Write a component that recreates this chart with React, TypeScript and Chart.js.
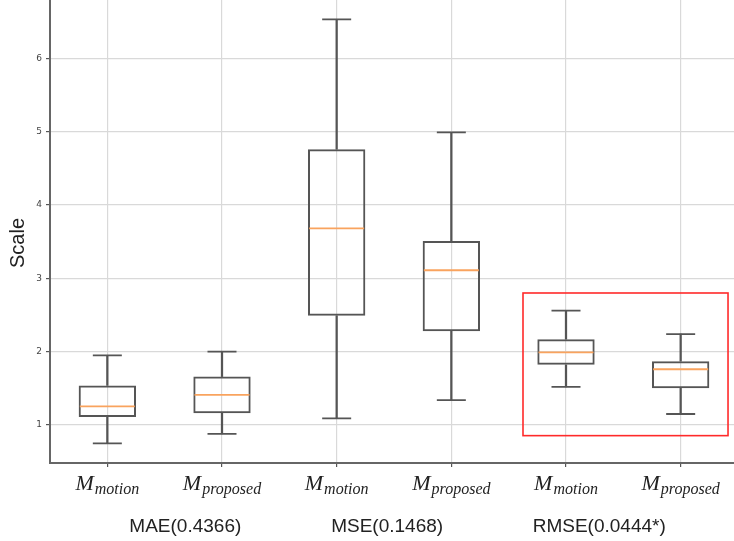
import React, { useEffect, useRef } from "react";
import { Chart, registerables } from "chart.js";

Chart.register(...registerables);

// ---- data ----
const categories = ["motion", "proposed", "motion", "proposed", "motion", "proposed"];
const whiskerLow = [0.75, 0.88, 1.09, 1.34, 1.52, 1.15];
const q1 = [1.11, 1.16, 2.49, 2.28, 1.82, 1.5];
const median = [1.255, 1.41, 3.68, 3.11, 1.99, 1.76];
const q3 = [1.54, 1.66, 4.76, 3.51, 2.17, 1.87];
const whiskerHigh = [1.95, 2.0, 6.53, 4.99, 2.56, 2.24];
const yTicks = [1, 2, 3, 4, 5, 6];
const groupLabels = ["MAE(0.4366)", "MSE(0.1468)", "RMSE(0.0444*)"];
const groupLabelCenters = [0.68, 2.44, 4.29]; // in category-index units
const highlightX = [3.625, 5.413]; // category-index units
const highlightY = [0.855, 2.8]; // value units

const BOX_COLOR = "#555555";
const MEDIAN_COLOR = "#f9a35e";

const overlayPlugin = {
  id: "overlay",
  afterDraw(chart: any) {
    const ctx = chart.ctx as CanvasRenderingContext2D;
    const xs = chart.scales.x;
    const ys = chart.scales.y;
    ctx.save();
    // category labels: M with italic subscript
    categories.forEach((sub, i) => {
      const cx = xs.getPixelForValue(i);
      ctx.font = "italic 22px 'Liberation Serif'";
      const mw = ctx.measureText("M").width;
      ctx.font = "italic 16px 'Liberation Serif'";
      const sw = ctx.measureText(sub).width;
      const left = cx - (mw + sw + 1) / 2;
      ctx.fillStyle = "#222";
      ctx.textBaseline = "alphabetic";
      ctx.textAlign = "left";
      ctx.font = "italic 22px 'Liberation Serif'";
      ctx.fillText("M", left, 490);
      ctx.font = "italic 16px 'Liberation Serif'";
      ctx.fillText(sub, left + mw + 1, 494);
    });
    // group labels
    ctx.font = "19px 'Liberation Sans'";
    ctx.fillStyle = "#222";
    ctx.textAlign = "center";
    groupLabels.forEach((t, i) => {
      ctx.fillText(t, xs.getPixelForValue(groupLabelCenters[i]), 532);
    });
    // y title
    ctx.save();
    ctx.translate(24, 243);
    ctx.rotate(-Math.PI / 2);
    ctx.font = "20px 'Liberation Sans'";
    ctx.fillStyle = "#222";
    ctx.textAlign = "center";
    ctx.fillText("Scale", 0, 0);
    ctx.restore();
    // highlight rectangle
    const x0 = xs.getPixelForValue(highlightX[0]);
    const x1 = xs.getPixelForValue(highlightX[1]);
    const y0 = ys.getPixelForValue(highlightY[1]);
    const y1 = ys.getPixelForValue(highlightY[0]);
    ctx.strokeStyle = "#ff2a2a";
    ctx.lineWidth = 1.6;
    ctx.strokeRect(x0, y0, x1 - x0, y1 - y0);
    ctx.restore();
  },
};

export default function App() {
  const ref = useRef<HTMLCanvasElement>(null);
  useEffect(() => {
    if (!ref.current) return;
    const pair = (a: number[], b: number[]) => a.map((v, i) => [v, b[i]]);
    const chart = new Chart(ref.current, {
      type: "bar",
      data: {
        labels: categories,
        datasets: [
          {
            type: "bar",
            data: pair(q1, q3) as any,
            backgroundColor: "rgba(0,0,0,0)",
            borderColor: BOX_COLOR,
            borderWidth: 2,
            borderSkipped: false,
            barPercentage: 0.5,
            categoryPercentage: 1,
            grouped: false,
            order: 2,
          },
          {
            type: "bar",
            data: pair(whiskerLow, q1) as any,
            backgroundColor: BOX_COLOR,
            borderWidth: 0,
            barThickness: 1.6,
            grouped: false,
            order: 3,
          },
          {
            type: "bar",
            data: pair(q3, whiskerHigh) as any,
            backgroundColor: BOX_COLOR,
            borderWidth: 0,
            barThickness: 1.6,
            grouped: false,
            order: 3,
          },
          {
            type: "line",
            data: whiskerLow,
            showLine: false,
            pointStyle: "line",
            pointRadius: 14.5,
            pointHoverRadius: 14.5,
            pointBorderColor: BOX_COLOR,
            pointBorderWidth: 1.8,
            order: 1,
          } as any,
          {
            type: "line",
            data: whiskerHigh,
            showLine: false,
            pointStyle: "line",
            pointRadius: 14.5,
            pointHoverRadius: 14.5,
            pointBorderColor: BOX_COLOR,
            pointBorderWidth: 1.8,
            order: 1,
          } as any,
          {
            type: "line",
            data: median,
            showLine: false,
            pointStyle: "line",
            pointRadius: 27.5,
            pointHoverRadius: 27.5,
            pointBorderColor: MEDIAN_COLOR,
            pointBorderWidth: 1.8,
            order: 0,
          } as any,
        ],
      },
      options: {
        responsive: false,
        animation: false,
        events: [],
        layout: { padding: 0, autoPadding: false },
        plugins: { legend: { display: false }, tooltip: { enabled: false } },
        scales: {
          x: {
            type: "category",
            offset: true,
            grid: {
              offset: false,
              color: "#d9d9d9",
              lineWidth: 1.2,
              drawTicks: true,
              tickLength: 4,
              tickColor: "#555",
            },
            border: { color: "#666", width: 2 },
            ticks: { callback: () => "", padding: 0 },
            afterFit: (s: any) => {
              s.height = 78;
              s.paddingLeft = 0;
              s.paddingRight = 0;
            },
          },
          y: {
            min: 0.482,
            max: 6.795,
            afterBuildTicks: (s: any) => {
              s.ticks = yTicks.map((v) => ({ value: v }));
            },
            grid: {
              color: "#d9d9d9",
              lineWidth: 1.2,
              tickLength: 4,
              tickColor: "#555",
            },
            border: { color: "#666", width: 2 },
            ticks: {
              color: "#444",
              font: { size: 9, family: "'DejaVu Sans'" },
              padding: 4,
            },
            afterFit: (s: any) => {
              s.width = 50;
              s.paddingTop = 0;
              s.paddingBottom = 0;
            },
          },
        },
      },
      plugins: [overlayPlugin],
    });
    return () => chart.destroy();
  }, []);
  return (
    <div
      style={{
        position: "fixed",
        left: 0,
        top: 0,
        width: 734,
        height: 541,
        overflow: "hidden",
        background: "#fff",
      }}
    >
      <canvas ref={ref} width={738} height={541} style={{ display: "block" }} />
    </div>
  );
}
